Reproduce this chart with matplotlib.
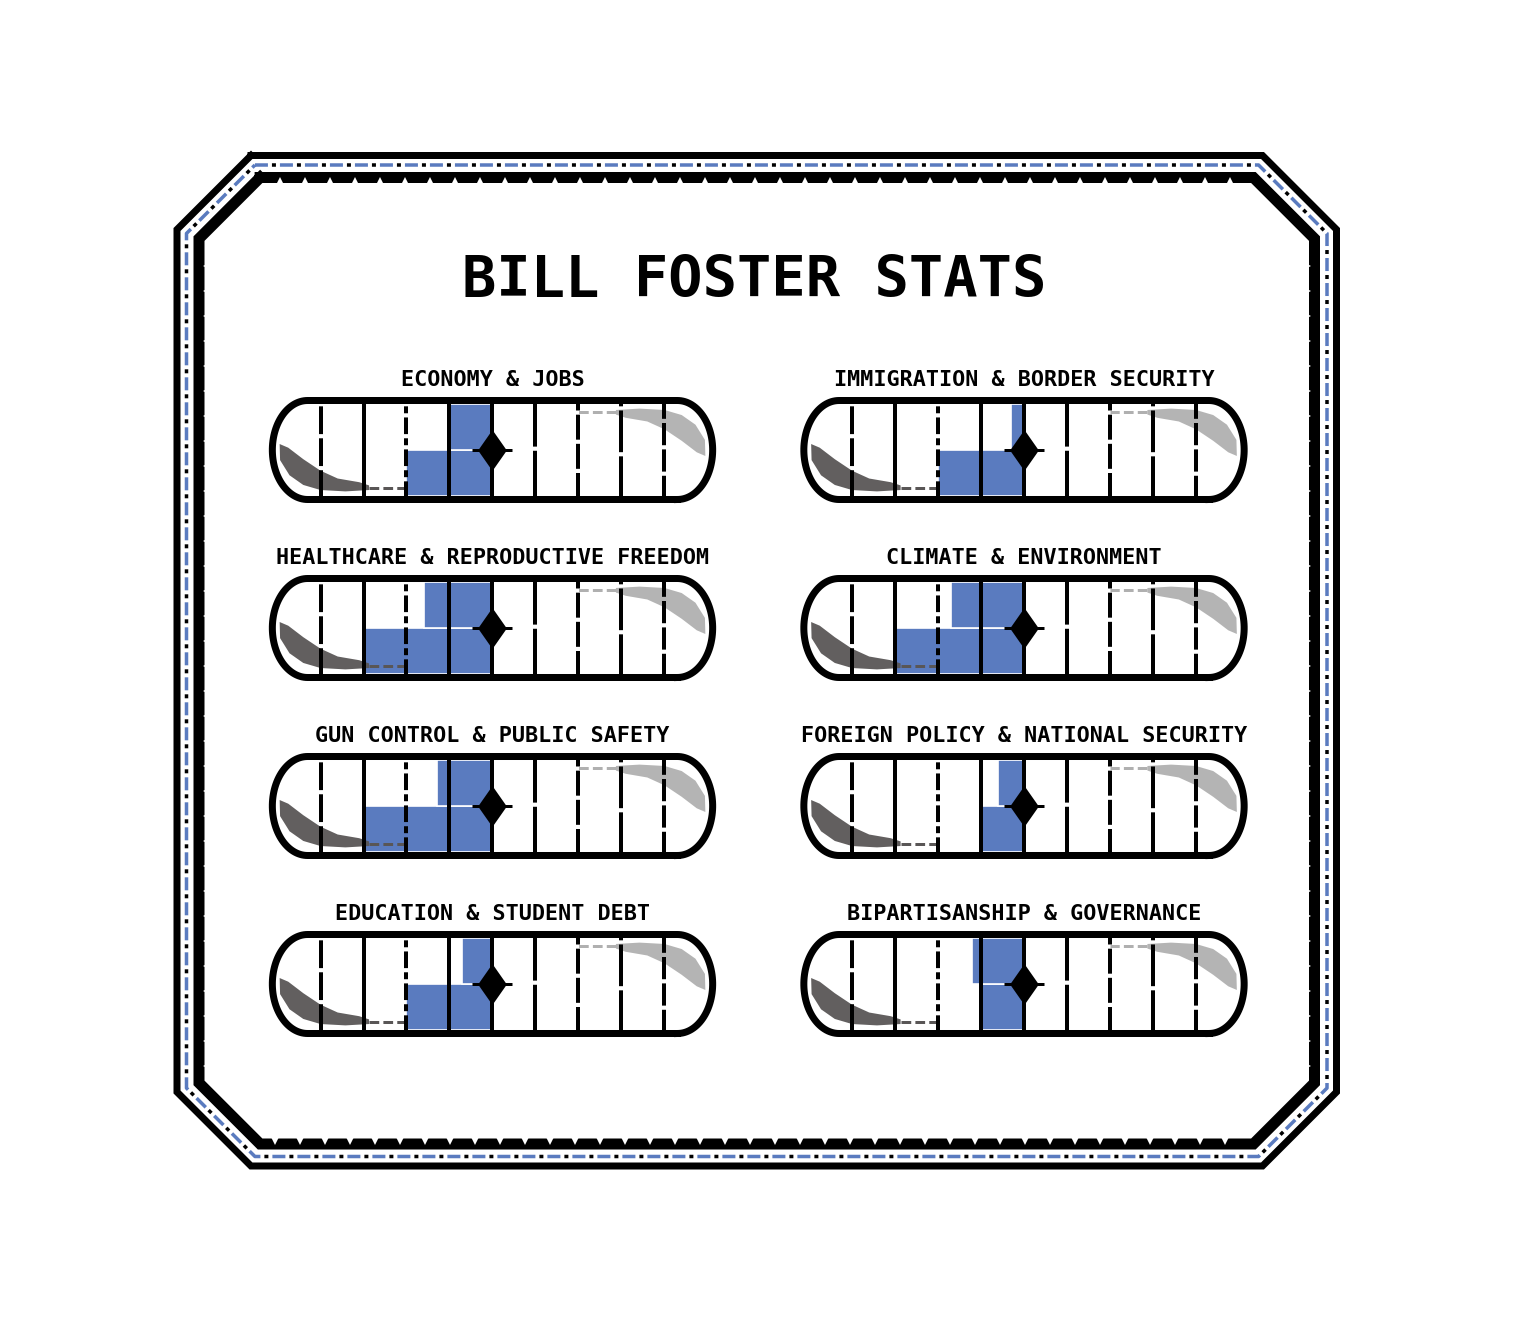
import numpy as np
import matplotlib.pyplot as plt
from matplotlib.path import Path
from matplotlib.patches import Polygon

plt.rcParams['lines.scale_dashes'] = False

W, H = 1513, 1324
BLUE = '#5a7bbf'
DARK = '#595656'
LIGHT = '#b0b0b0'
MONO = 'DejaVu Sans Mono'
PT = 0.72  # points per pixel at dpi 100

# issues in reading order (left column, right column, row by row)
issues = ['ECONOMY & JOBS', 'IMMIGRATION & BORDER SECURITY',
          'HEALTHCARE & REPRODUCTIVE FREEDOM', 'CLIMATE & ENVIRONMENT',
          'GUN CONTROL & PUBLIC SAFETY', 'FOREIGN POLICY & NATIONAL SECURITY',
          'EDUCATION & STUDENT DEBT', 'BIPARTISANSHIP & GOVERNANCE']
lower_scores = [-2.0, -2.0, -3.0, -3.0, -3.0, -1.0, -2.0, -1.0]
upper_scores = [-1.0, -0.3, -1.6, -1.7, -1.3, -0.6, -0.7, -1.2]
ticks = [-4, -3, -2, -1, 0, 1, 2, 3, 4]

tick_styles = {-4: (0, (20, 3)), -3: '-', -2: (0, (12, 3, 5, 3)), -1: '-', 0: '-',
               1: (0, (34, 3)), 2: (0, (18, 3)), 3: (0, (30, 3)), 4: (0, (16, 3))}

fig = plt.figure(figsize=(W / 100, H / 100), dpi=100)
bg = fig.add_axes([0, 0, 1, 1])
bg.set_xlim(0, W)
bg.set_ylim(H, 0)
bg.axis('off')


# ---- frame ----
def frame(d):
    x0, y0, x1, y1 = 177 + d, 155.5 + d, 1336.5 - d, 1166 - d
    c = 74 - 0.586 * d
    pts = [(x0 + c, y0), (x1 - c, y0), (x1, y0 + c), (x1, y1 - c),
           (x1 - c, y1), (x0 + c, y1), (x0, y1 - c), (x0, y0 + c), (x0 + c, y0)]
    return np.array(pts)


o = frame(0)
bg.plot(o[:, 0], o[:, 1], color='black', lw=7 * PT, solid_joinstyle='miter')
m = frame(9.5)
bg.plot(m[:, 0], m[:, 1], color=BLUE, lw=3.5 * PT, dash_capstyle='butt',
        linestyle=(0, (13 * PT, 12 * PT)))
bg.plot(m[:, 0], m[:, 1], color='black', lw=3.5 * PT, dash_capstyle='butt',
        linestyle=(8 * PT, (4 * PT, 21 * PT)))
b = frame(22)
bg.plot(b[:, 0], b[:, 1], color='black', lw=11 * PT, solid_joinstyle='miter')

ns = 8 * PT
xs_top = np.arange(280, 1240, 25)
bg.plot(xs_top, np.full(len(xs_top), 183 - 2.5), ls='none', marker='^', ms=ns,
        color='white', mew=0)
xs_bot = np.arange(275, 1240, 25)
bg.plot(xs_bot, np.full(len(xs_bot), 1138.5 + 2.5), ls='none', marker='v', ms=ns,
        color='white', mew=0)
ys_side = np.arange(266, 1075, 25)
bg.plot(np.full(len(ys_side), 204.5 + 2.5), ys_side, ls='none', marker='<', ms=ns,
        color='white', mew=0)
bg.plot(np.full(len(ys_side), 1309 - 2.5), ys_side, ls='none', marker='>', ms=ns,
        color='white', mew=0)

bg.text(754, 297, 'BILL FOSTER STATS', ha='center', va='baseline',
        fontsize=41, fontweight='bold', family=MONO, color='black')

# ---- gauges ----
UX, UY = 43.0, 46.0
XL, YL = 5.4, 1.25
col_cx = [492.5, 1024]
row_cy = [450, 628, 806, 984]

t = np.linspace(-np.pi / 2, np.pi / 2, 60)
hl, rx, ry = 4.3, 0.82, 1.076
pill = np.vstack([np.column_stack([hl + rx * np.cos(t), ry * np.sin(t)]),
                  np.column_stack([-hl - rx * np.cos(t), -ry * np.sin(t)])])
pill = np.vstack([pill, pill[:1]])

swoosh = np.array([(-4.95, 0.13), (-4.94, -0.22), (-4.72, -0.55), (-4.4, -0.76),
                   (-4.0, -0.87), (-3.42, -0.9), (-2.87, -0.87), (-2.87, -0.77),
                   (-3.1, -0.7), (-3.6, -0.62), (-4.0, -0.45), (-4.4, -0.2),
                   (-4.75, 0.05)])

diamond = Path([(0, 1), (0.7, 0), (0, -1), (-0.7, 0), (0, 1)],
               [Path.MOVETO, Path.LINETO, Path.LINETO, Path.LINETO, Path.CLOSEPOLY])

for i, (name, low, up) in enumerate(zip(issues, lower_scores, upper_scores)):
    cx = col_cx[i % 2]
    cy = row_cy[i // 2]
    ax = fig.add_axes([(cx - XL * UX) / W, (H - cy - YL * UY) / H,
                       2 * XL * UX / W, 2 * YL * UY / H])
    ax.set_xlim(-XL, XL)
    ax.set_ylim(-YL, YL)
    ax.axis('off')

    ax.barh(-0.5, low, height=1.0, color=BLUE, edgecolor='white', linewidth=1.2, zorder=1)
    ax.barh(0.5, up, height=1.0, color=BLUE, edgecolor='white', linewidth=1.2, zorder=1)

    ax.add_patch(Polygon(swoosh, closed=True, facecolor=DARK, edgecolor='none',
                         alpha=0.95, zorder=2))
    ax.plot([-2.87, -2.0], [-0.82, -0.82], color=DARK, lw=3 * PT,
            linestyle=(0, (7, 3)), zorder=2)
    ax.add_patch(Polygon(-swoosh, closed=True, facecolor=LIGHT, edgecolor='none',
                         alpha=0.95, zorder=2))
    ax.plot([2.87, 2.0], [0.82, 0.82], color=LIGHT, lw=3 * PT,
            linestyle=(0, (7, 3)), zorder=2)

    for k in ticks:
        ax.plot([k, k], [-1.04, 1.04], color='black', lw=4 * PT,
                linestyle=tick_styles[k], dash_capstyle='butt', zorder=3)

    ax.plot(pill[:, 0], pill[:, 1], color='black', lw=7 * PT, zorder=4,
            solid_joinstyle='miter', clip_on=False)

    ax.plot([0], [0], ls='none', marker='_', ms=40 * PT, mew=3 * PT, color='black', zorder=5)
    ax.plot([0], [0], ls='none', marker=diamond, ms=41 * PT, color='black', mew=0, zorder=5)

    bg.text(cx, cy - 63.5, name, ha='center', va='baseline', fontsize=15.7,
            fontweight='bold', family=MONO, color='black')

fig.savefig('out.png', dpi=100)
